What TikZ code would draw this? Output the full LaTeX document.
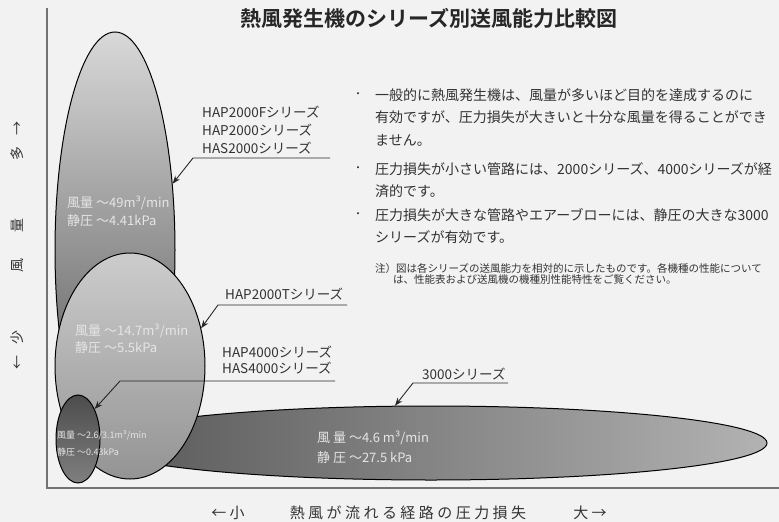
\documentclass[tikz,border=0pt]{standalone}
\usepackage{fontspec}
\setmainfont{Noto Sans CJK JP}
\newfontfamily\titlefont{Noto Sans CJK JP Bold}
\newfontfamily\axisfont{Noto Sans CJK JP}[LetterSpace=23]
\usetikzlibrary{arrows.meta, shapes.geometric}

\begin{document}
\begin{tikzpicture}[x=1pt, y=-1pt,
  blob/.style={ellipse, draw=black, line width=1pt, inner sep=0pt},
  lab/.style={font=\fontsize{13.5}{18}\selectfont, text=black!80, inner sep=0pt, anchor=north west, align=left},
  val/.style={font=\fontsize{13}{18}\selectfont, text=white!90!black, inner sep=0pt, anchor=north west, align=left},
  note/.style={font=\fontsize{14}{22.5}\selectfont, text=black!80, inner sep=0pt, anchor=north west, align=left},
  lead/.style={draw=black!85, line width=0.9pt, -{Stealth[length=8pt,width=6pt]}},
  under/.style={draw=black!85, line width=0.9pt}]
  \fill[black!5] (0,0) rectangle (779,522);
  \useasboundingbox (0,0) rectangle (779,522);

  % axes
  \coordinate (ytop) at (47,8);
  \coordinate (org) at (47,488);
  \coordinate (xend) at (779,488);
  \draw[black!55, line width=1.6pt] (ytop) -- (org) -- (xend);

  % the four series
  \node[blob, top color=black!15, bottom color=black!70, minimum width=120pt, minimum height=436pt] (s2000) at (115,250) {};
  \node[blob, left color=black!66, right color=black!30, minimum width=672pt, minimum height=74pt] (s3000) at (431,443) {};
  \node[blob, top color=black!20, bottom color=black!42, minimum width=150pt, minimum height=226pt] (s2000t) at (130,366) {};
  \node[blob, top color=black!70, bottom color=black!50, minimum width=44pt, minimum height=88pt] (s4000) at (78,439) {};

  \node[val] (v2000) at (67,195.5) {風量 〜49m³/min\\静圧 〜4.41kPa};
  \node[val, font=\fontsize{13}{17}\selectfont] (v2000t) at (75,323.5) {風量 〜14.7m³/min\\静圧 〜5.5kPa};
  \node[val, font=\fontsize{9}{17}\selectfont] (v4000) at (57,430.5) {風量 〜2.6/3.1m³/min\\静圧 〜0.43kPa};
  \node[val, font=\fontsize{13}{20}\selectfont] (v3000) at (317,430.5) {風 量 〜4.6 m³/min\\静 圧 〜27.5 kPa};

  % title
  \node[font=\titlefont\fontsize{21}{24}\selectfont, text=black!85] (title) at (429,18) {熱風発生機のシリーズ別送風能力比較図};

  % series labels with leaders
  \node[lab] (l2000) at (202,106) {HAP2000Fシリーズ\\HAP2000シリーズ\\HAS2000シリーズ};
  \coordinate (u2000a) at (330,158);
  \coordinate (u2000b) at (193,158);
  \draw[lead] (u2000a) -- (u2000b) -- (s2000.49);

  \node[lab] (l2000t) at (225,288) {HAP2000Tシリーズ};
  \coordinate (u2000ta) at (347,305);
  \coordinate (u2000tb) at (218,305);
  \draw[lead] (u2000ta) -- (u2000tb) -- (s2000t.28);

  \node[lab, font=\fontsize{13.5}{16}\selectfont] (l4000) at (222,346) {HAP4000シリーズ\\HAS4000シリーズ};
  \coordinate (u4000a) at (335,381);
  \coordinate (u4000b) at (120,381);
  \draw[lead] (u4000a) -- (u4000b) -- (s4000.61);

  \node[lab] (l3000) at (422,368) {3000シリーズ};
  \coordinate (u3000a) at (508,383);
  \coordinate (u3000b) at (413,383);
  \draw[lead] (u3000a) -- (u3000b) -- (s3000.134);

  % remarks
  \node[note] (p1) at (375,88) {一般的に熱風発生機は、風量が多いほど目的を達成するのに\\有効ですが、圧力損失が大きいと十分な風量を得ることができ\\ません。};
  \node[note] (p2) at (375,162) {圧力損失が小さい管路には、2000シリーズ、4000シリーズが経\\済的です。};
  \node[note] (p3) at (375,208) {圧力損失が大きな管路やエアーブローには、静圧の大きな3000\\シリーズが有効です。};
  \node[text=black!80] (b1) at (358,95) {・};
  \node[text=black!80] (b2) at (358,169) {・};
  \node[text=black!80] (b3) at (358,215) {・};
  \node[note, font=\fontsize{10.5}{11}\selectfont] (n1) at (375,263.5) {注）図は各シリーズの送風能力を相対的に示したものです。各機種の性能について\\\hspace*{1.7em}は、性能表および送風機の機種別性能特性をご覧ください。};

  % axis titles
  \node[rotate=90, font=\fontsize{14}{16}\selectfont, text=black!80] (yl) at (17,245) {←\hspace{11pt}少\hspace{58pt}風\hspace{26pt}量\hspace{58pt}多\hspace{11pt}→};
  \node[font=\fontsize{15}{17}\selectfont, text=black!80] (xlo) at (228,513) {← 小};
  \node[font=\axisfont\fontsize{15}{17}\selectfont, text=black!80] (xmid) at (408,513) {熱風が流れる経路の圧力損失};
  \node[font=\fontsize{15}{17}\selectfont, text=black!80] (xhi) at (590,513) {大 →};
\end{tikzpicture}
\end{document}
